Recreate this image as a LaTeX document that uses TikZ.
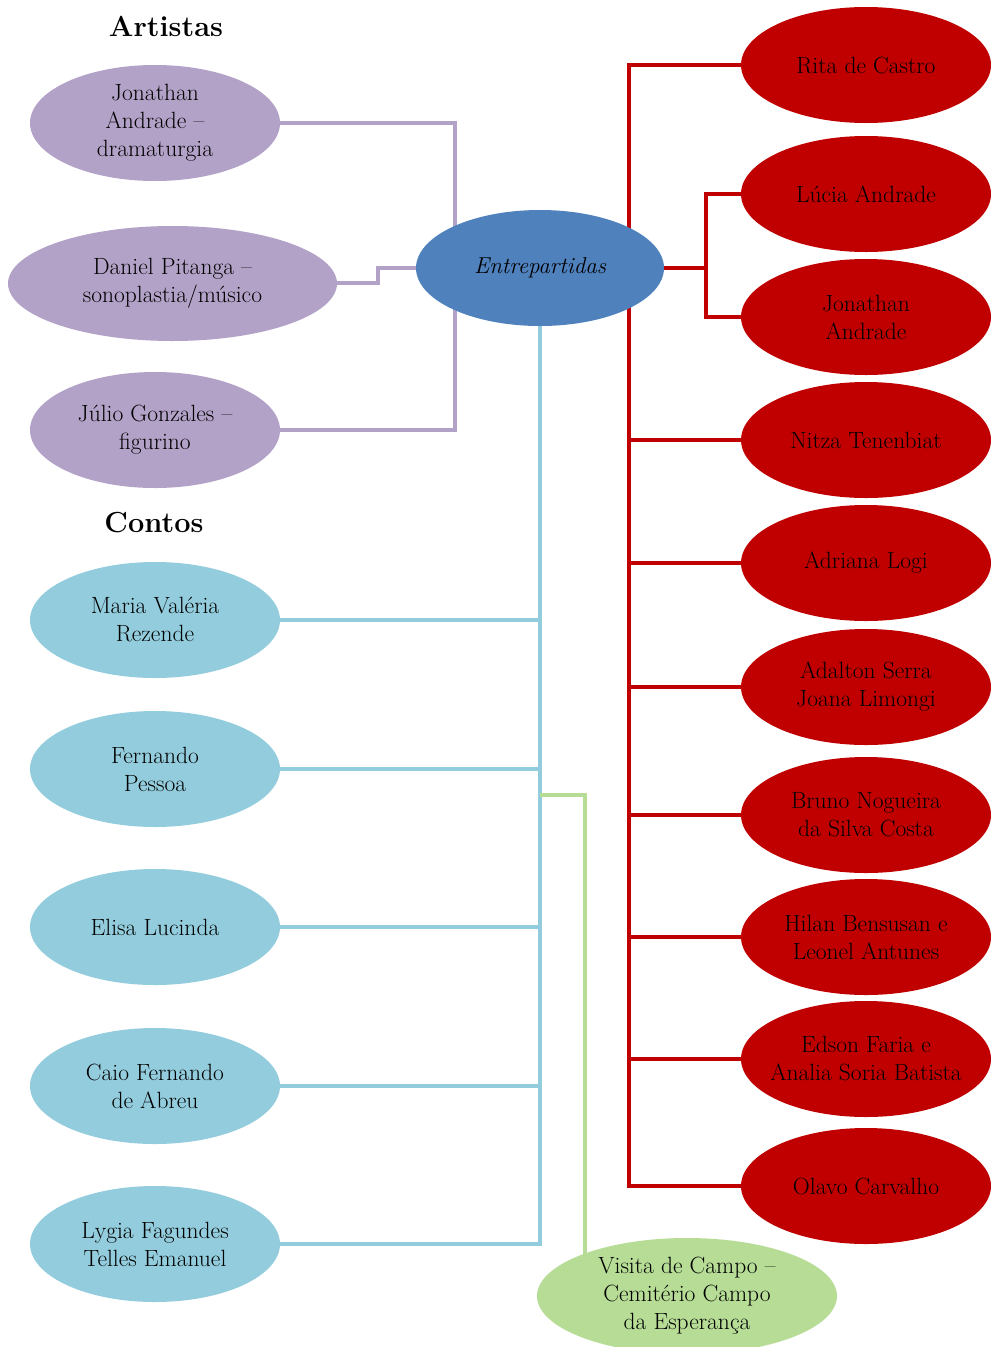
\documentclass[tikz,border=0pt]{standalone}
\usepackage{fontspec}
\usetikzlibrary{shapes.geometric,backgrounds}
\definecolor{cpurple}{HTML}{B3A2C7}
\definecolor{cblue}{HTML}{4F81BD}
\definecolor{cred}{HTML}{C00000}
\definecolor{clblue}{HTML}{93CDDD}
\definecolor{cgreen}{HTML}{B6DC96}
\begin{document}
\begin{tikzpicture}[x=1pt,y=-1pt,
  bubble/.style={ellipse,inner sep=0pt,minimum width=250pt,minimum height=116pt,align=center,font=\fontsize{23.5}{28}\selectfont,text=black},
  pbub/.style={bubble,fill=cpurple},
  rbub/.style={bubble,fill=cred},
  lbub/.style={bubble,fill=clblue},
  gbub/.style={bubble,fill=cgreen,minimum width=300pt},
  title/.style={font=\fontsize{29}{34}\selectfont\bfseries},
  conn/.style={line width=3.6pt},
  pline/.style={conn,draw=cpurple},
  rline/.style={conn,draw=cred},
  lline/.style={conn,draw=clblue},
  gline/.style={conn,draw=cgreen}]
\useasboundingbox (0,0) rectangle (991,1347);
\clip (0,0) rectangle (991,1347);
% titles
\node[title] (tart) at (166,26) {Artistas};
\node[title] (tcon) at (154,523) {Contos};
% center
\node[bubble,fill=cblue,minimum width=248pt,font=\fontsize{23}{28}\selectfont\itshape] (ent) at (540,268) {Entrepartidas};
% artists
\node[pbub] (ja) at (155,123) {Jonathan\\Andrade --\\dramaturgia};
\node[pbub,minimum width=329pt,minimum height=115pt] (dp) at (172.5,283.5) {Daniel Pitanga --\\sonoplastia/músico};
\node[pbub] (jg) at (155,430) {Júlio Gonzales --\\figurino};
% red
\node[rbub] (r1) at (866,65) {Rita de Castro};
\node[rbub] (r2) at (866,194) {Lúcia Andrade};
\node[rbub] (r3) at (866,317) {Jonathan\\Andrade};
\node[rbub] (r4) at (866,440) {Nitza Tenenbiat};
\node[rbub] (r5) at (866,563) {Adriana Logi};
\node[rbub] (r6) at (866,687) {Adalton Serra\\Joana Limongi};
\node[rbub] (r7) at (866,815) {Bruno Nogueira\\da Silva Costa};
\node[rbub] (r8) at (866,937) {Hilan Bensusan e\\Leonel Antunes};
\node[rbub,inner xsep=-14pt] (r9) at (866,1059) {Edson Faria e\\Analia Soria Batista};
\node[rbub] (r10) at (866,1186) {Olavo Carvalho};
% contos
\node[lbub] (c1) at (155,620) {Maria Valéria\\Rezende};
\node[lbub] (c2) at (155,769) {Fernando\\Pessoa};
\node[lbub] (c3) at (155,927) {Elisa Lucinda};
\node[lbub] (c4) at (155,1086) {Caio Fernando\\de Abreu};
\node[lbub] (c5) at (155,1244) {Lygia Fagundes\\Telles Emanuel};
% green
\node[gbub] (vc) at (687,1296) {Visita de Campo --\\Cemitério Campo\\da Esperança};
% coordinates
\coordinate (pb) at (455,300);
\coordinate (d1) at (378,283);
\coordinate (rj) at (706,250);
\coordinate (rv) at (629,600);
\coordinate (g1) at (540,795);
\coordinate (g2) at (585,1280);
\begin{scope}[on background layer]
\draw[pline] (ja.east) -| (pb) |- (jg.east);
\draw[pline] (dp.east) -- (d1 -| dp.east) -- (d1) |- (ent.west);
\draw[rline] (ent.east) -- (ent.east -| rj);
\draw[rline] (r2.west) -| (rj) |- (r3.west);
\draw[rline] (r1.west) -| (rv) |- (r10.west);
\foreach \n in {r4,r5,r6,r7,r8,r9} \draw[rline] (\n.west) -- (\n.west -| rv);
\draw[lline] (ent.south) |- (c5.east);
\foreach \n in {c1,c2,c3,c4} \draw[lline] (\n.east) -- (\n.east -| ent.south);
\draw[gline] (g1) -| (g2);
\end{scope}
\end{tikzpicture}
\end{document}
